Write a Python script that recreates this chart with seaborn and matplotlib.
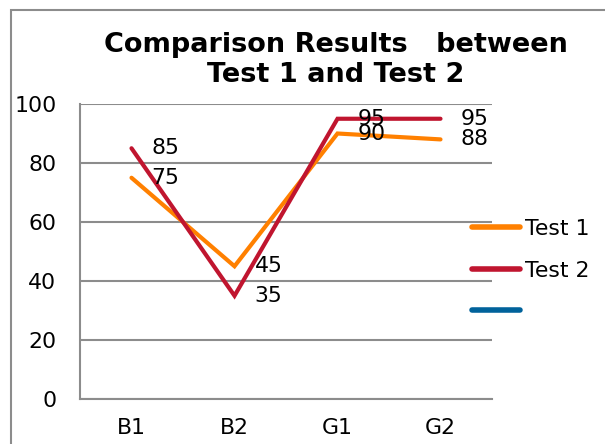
import matplotlib
matplotlib.use("Agg")
import matplotlib.pyplot as plt
import seaborn as sns
import pandas as pd
from matplotlib.lines import Line2D
from matplotlib.patches import Rectangle

categories = ["B1", "B2", "G1", "G2"]
test1 = [75, 45, 90, 88]
test2 = [85, 35, 95, 95]
series_names = ["Test 1", "Test 2"]
colors = {"Test 1": "#FF8000", "Test 2": "#C0152F"}
extra_color = "#00629B"
title = "Comparison Results   between\nTest 1 and Test 2"
yticks = [0, 20, 40, 60, 80, 100]

df = pd.DataFrame({
    "cat": categories * 2,
    "value": test1 + test2,
    "series": ["Test 1"] * 4 + ["Test 2"] * 4,
})
df["x"] = df["cat"].map({c: i for i, c in enumerate(categories)})

sns.set_style("white")
plt.rcParams["font.family"] = ["DejaVu Sans"]
plt.rcParams["text.color"] = "black"
plt.rcParams["xtick.labelcolor"] = "black"
plt.rcParams["ytick.labelcolor"] = "black"

FS = 15.8
W, H = 605, 444
fig = plt.figure(figsize=(W / 100, H / 100), dpi=100)
ax = fig.add_axes([80 / W, (H - 399) / H, (492 - 80) / W, (399 - 104) / H])

# outer chart border (extends past the image on the right/bottom)
fig.patches.append(Rectangle((11 / W, -0.1), 1.2, (H - 10) / H + 0.1,
                             transform=fig.transFigure, fill=False,
                             edgecolor="#8C8C8C", linewidth=1.5, zorder=0))

sns.lineplot(data=df, x="x", y="value", hue="series", palette=colors,
             hue_order=series_names, linewidth=3, ax=ax, legend=False,
             solid_capstyle="round", solid_joinstyle="miter")

# data labels
for _, r in df.iterrows():
    ax.annotate(str(r["value"]), (r["x"], r["value"]), xytext=(20, 0),
                textcoords="offset pixels", ha="left", va="center",
                fontsize=FS, color="black")

ax.set_xlim(-0.5, 3.5)
ax.set_ylim(0, 100)
ax.set_yticks(yticks)
ax.set_yticklabels([str(v) for v in yticks], fontsize=FS)
ax.set_xticks(range(len(categories)))
ax.set_xticklabels(categories, fontsize=FS)
ax.set_xticks([-0.5, 0.5, 1.5, 2.5, 3.5], minor=True)
ax.tick_params(axis="x", which="major", length=0, pad=14)
ax.tick_params(axis="x", which="minor", length=6.5, width=1.5, color="#8C8C8C", direction="out")
ax.tick_params(axis="y", length=6.5, width=1.5, color="#8C8C8C", direction="out", pad=10.5)
ax.set_xlabel("")
ax.set_ylabel("")
ax.grid(axis="y", color="#8C8C8C", linewidth=1.5)
ax.set_axisbelow(True)
for s in ["top", "right"]:
    ax.spines[s].set_visible(False)
for s in ["left", "bottom"]:
    ax.spines[s].set_color("#8C8C8C")
    ax.spines[s].set_linewidth(1.5)

fig.text(336 / W, 1 - 60 / H, title, ha="center", va="center",
         fontsize=19.5, fontweight="bold", linespacing=1.17)

handles = [Line2D([], [], color=colors["Test 1"], lw=4, solid_capstyle="round"),
           Line2D([], [], color=colors["Test 2"], lw=4, solid_capstyle="round"),
           Line2D([], [], color=extra_color, lw=4, solid_capstyle="round")]
fig.legend(handles, ["Test 1", "Test 2", ""], loc="upper left",
           bbox_to_anchor=(472 / W, 1 - 219 / H), frameon=False,
           fontsize=FS, handlelength=2.2, handletextpad=0.2,
           labelspacing=0.98, borderpad=0, borderaxespad=0)

fig.savefig("out.png", dpi=100)
